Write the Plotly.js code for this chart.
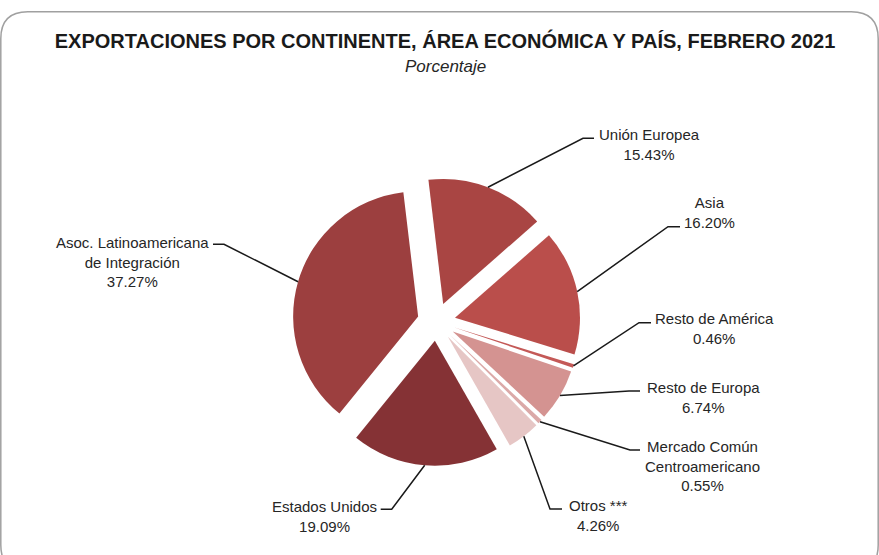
<!DOCTYPE html>
<html>
<head>
<meta charset="utf-8">
<script src="https://cdn.plot.ly/plotly-3.0.1.min.js"></script>
<style>
  html, body { margin: 0; padding: 0; background: #ffffff; }
  #chart { width: 879px; height: 555px; }
</style>
</head>
<body>
<div id="chart"></div>
<script>
// ---- Data ----
var categories = [
  "Unión Europea",
  "Asia",
  "Resto de América",
  "Resto de Europa",
  "Mercado Común Centroamericano",
  "Otros ***",
  "Estados Unidos",
  "Asoc. Latinoamericana de Integración"
];
var labelTexts = [
  "Unión Europea",
  "Asia",
  "Resto de América",
  "Resto de Europa",
  "Mercado Común<br>Centroamericano",
  "Otros ***",
  "Estados Unidos",
  "Asoc. Latinoamericana<br>de Integración"
];
var shares = [15.43, 16.20, 0.46, 6.74, 0.55, 4.26, 19.09, 37.27];
var sliceColors = ["#A94543", "#BA4E4B", "#C45957", "#D49391", "#DBA9A8", "#E6C6C5", "#853235", "#9C3F3F"];

// ---- Layout constants (pixels) ----
var W = 879, H = 555;
var PULL = 0.152;
var ROT = -6.8;
var domX = [292.4 / W, 580.4 / W];
var domY = [1 - 465.7 / H, 1 - 177.7 / H];

// label centres and leader-line elbow / end points (pixels)
var labelPos = [[649.5, 144.5], [709.5, 212], [714.5, 328.5], [703, 397.5], [702, 466], [598.5, 515.5], [324, 516], [132, 261.7]];
var elbowPos = [[583, 138.3], [668, 226.7], [639, 322.7], [629, 391], [630, 450], [550, 509], [391.7, 509.3], [224, 244.3]];
var endPos   = [[594, 138.3], [680, 226.7], [651, 322.7], [640, 391], [640, 450], [562, 509], [380.7, 509.3], [213, 244.3]];

function px(x) { return x / W; }
function py(y) { return 1 - y / H; }

// pie geometry, following plotly's own convention
var cx = (domX[0] + domX[1]) / 2 * W;
var cy = (1 - (domY[0] + domY[1]) / 2) * H;
var outerR = Math.min((domX[1] - domX[0]) * W, (domY[1] - domY[0]) * H) / 2;
var r = outerR / (1 + PULL);
var total = shares.reduce(function (a, b) { return a + b; }, 0);

var shapes = [];
var annotations = [];
var cum = 0;
for (var i = 0; i < shares.length; i++) {
  var mid = (ROT + (cum + shares[i] / 2) / total * 360) * Math.PI / 180;
  cum += shares[i];
  var ax = cx + (r + r * PULL) * Math.sin(mid);
  var ay = cy - (r + r * PULL) * Math.cos(mid);
  shapes.push({
    type: "path", xref: "paper", yref: "paper",
    path: "M" + px(ax) + "," + py(ay) + " L" + px(elbowPos[i][0]) + "," + py(elbowPos[i][1]) +
          " L" + px(endPos[i][0]) + "," + py(endPos[i][1]),
    line: { color: "#1a1a1a", width: 1.5 }
  });
  annotations.push({
    xref: "paper", yref: "paper",
    x: px(labelPos[i][0]), y: py(labelPos[i][1]),
    xanchor: "center", yanchor: "middle", align: "center",
    showarrow: false,
    text: labelTexts[i] + "<br>" + shares[i].toFixed(2) + "%",
    font: { family: "Liberation Sans, Arial, sans-serif", size: 15, color: "#262626" }
  });
}

// subtitle
annotations.push({
  xref: "paper", yref: "paper", x: px(445), y: py(66),
  xanchor: "center", yanchor: "middle", showarrow: false,
  text: "<i>Porcentaje</i>",
  font: { family: "Liberation Sans, Arial, sans-serif", size: 17, color: "#262626" }
});

// rounded outer border
var bL = 0.8, bR = 878.2, bT = 11.7, bB = 572, rad = 27;
shapes.push({
  type: "path", xref: "paper", yref: "paper",
  path: "M" + px(bL + rad) + "," + py(bT) +
        " L" + px(bR - rad) + "," + py(bT) +
        " Q" + px(bR) + "," + py(bT) + " " + px(bR) + "," + py(bT + rad) +
        " L" + px(bR) + "," + py(bB - rad) +
        " Q" + px(bR) + "," + py(bB) + " " + px(bR - rad) + "," + py(bB) +
        " L" + px(bL + rad) + "," + py(bB) +
        " Q" + px(bL) + "," + py(bB) + " " + px(bL) + "," + py(bB - rad) +
        " L" + px(bL) + "," + py(bT + rad) +
        " Q" + px(bL) + "," + py(bT) + " " + px(bL + rad) + "," + py(bT) + " Z",
  line: { color: "#a0a0a0", width: 1.5 },
  layer: "below"
});

var trace = {
  type: "pie",
  labels: categories,
  values: shares,
  sort: false,
  direction: "clockwise",
  rotation: ROT,
  pull: shares.map(function () { return PULL; }),
  marker: { colors: sliceColors, line: { width: 0 } },
  textinfo: "none",
  hoverinfo: "label+percent",
  showlegend: false,
  domain: { x: domX, y: domY }
};

var layout = {
  width: W, height: H,
  margin: { l: 0, r: 0, t: 0, b: 0 },
  paper_bgcolor: "#ffffff",
  showlegend: false,
  title: {
    text: "<b>EXPORTACIONES POR CONTINENTE, ÁREA ECONÓMICA Y PAÍS, FEBRERO 2021</b>",
    x: px(445), xanchor: "center", xref: "paper",
    y: py(41), yanchor: "middle", yref: "paper",
    font: { family: "Liberation Sans Narrow, Arial Narrow, Liberation Sans, sans-serif", size: 20, color: "#1a1a1a" }
  },
  shapes: shapes,
  annotations: annotations
};

Plotly.newPlot("chart", [trace], layout, { displayModeBar: false, staticPlot: true });
</script>
</body>
</html>
